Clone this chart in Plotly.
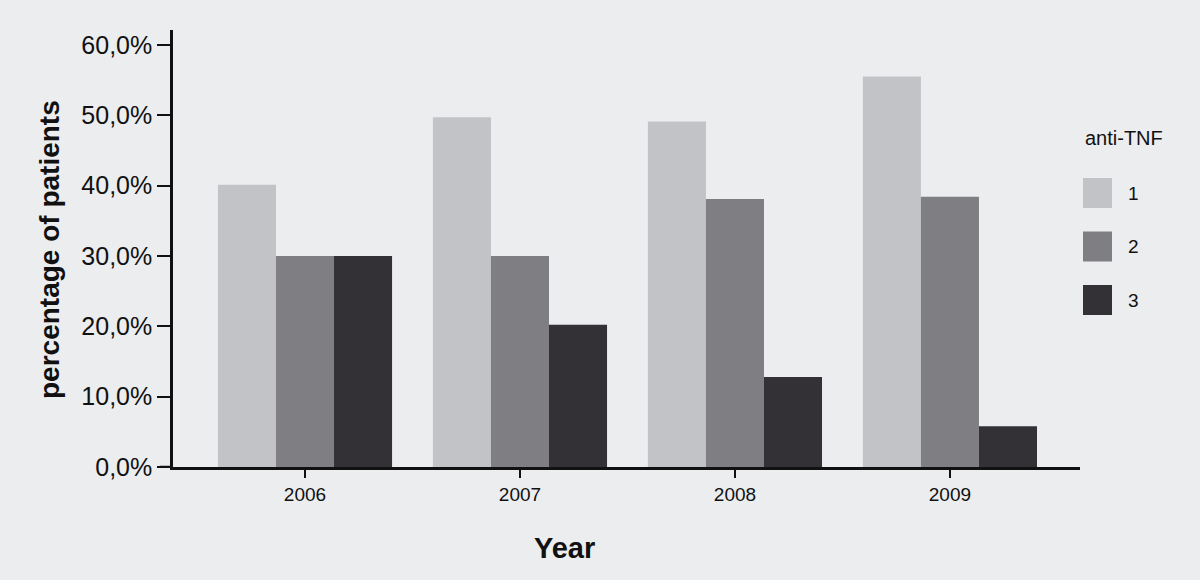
import plotly.graph_objects as go

# Data
years = ['2006', '2007', '2008', '2009']
series_names = ['1', '2', '3']
anti_tnf_1 = [40.1, 49.7, 49.1, 55.5]
anti_tnf_2 = [30.0, 30.0, 38.1, 38.4]
anti_tnf_3 = [30.0, 20.2, 12.8, 5.8]
y_tickvals = [0, 10, 20, 30, 40, 50, 60]
y_ticktext = ['0,0%', '10,0%', '20,0%', '30,0%', '40,0%', '50,0%', '60,0%']

colors = ['#c2c3c7', '#7f7e83', '#333136']
bg = '#ecedef'
ink = '#111111'

fig = go.Figure()
for name, vals, col in zip(series_names, [anti_tnf_1, anti_tnf_2, anti_tnf_3], colors):
    fig.add_trace(go.Bar(
        x=years, y=vals, name=name,
        marker=dict(color=col, line=dict(width=0)),
        showlegend=False
    ))

fig.update_layout(
    width=1200, height=580,
    paper_bgcolor=bg, plot_bgcolor=bg,
    margin=dict(l=173, r=120, t=30, b=113),
    barmode='group', bargap=0.19, bargroupgap=0,
    font=dict(family='Liberation Sans, Arial, sans-serif', color=ink),
)

fig.update_xaxes(
    type='category', range=[-0.614, 3.605],
    showline=True, linecolor=ink, linewidth=2.5,
    ticks='outside', ticklen=8, tickwidth=2, tickcolor=ink,
    tickfont=dict(size=19),
    showgrid=False, zeroline=False,
)
fig.update_yaxes(
    range=[0, 62.1],
    tickvals=y_tickvals, ticktext=y_ticktext,
    showline=True, linecolor=ink, linewidth=2.5,
    ticks='outside', ticklen=13, tickwidth=2, tickcolor=ink,
    tickfont=dict(size=25),
    showgrid=False, zeroline=False,
)

# x axis line runs a little past the y axis, like the ticks
fig.add_shape(type='line', xref='paper', yref='y', x0=-0.0145, x1=0, y0=0, y1=0,
              line=dict(color=ink, width=2.5))

# axis titles
fig.add_annotation(text='<b>Year</b>', xref='paper', yref='paper', x=0.432, y=-0.185,
                   showarrow=False, xanchor='center', yanchor='middle', font=dict(size=29))
fig.add_annotation(text='<b>percentage of patients</b>', xref='paper', yref='paper',
                   x=-0.1356, y=0.4966, textangle=-90, showarrow=False,
                   xanchor='center', yanchor='middle', font=dict(size=28))

# legend with large swatches
fig.add_annotation(text='anti-TNF', xref='paper', yref='paper', x=1.003, y=0.753,
                   showarrow=False, xanchor='left', yanchor='middle', font=dict(size=20))
for i, (name, col) in enumerate(zip(series_names, colors)):
    cy = 193 + i * 53.5
    y0 = (467 - (cy + 15)) / 437
    y1 = (467 - (cy - 15)) / 437
    fig.add_shape(type='rect', xref='paper', yref='paper',
                  x0=1.0033, x1=1.0353, y0=y0, y1=y1,
                  fillcolor=col, line=dict(width=0))
    fig.add_annotation(text=name, xref='paper', yref='paper', x=1.051, y=(y0 + y1) / 2,
                       showarrow=False, xanchor='left', yanchor='middle', font=dict(size=19))

fig.write_html('out.html', config={'displayModeBar': False},
               post_script="document.body.style.margin='0px';document.body.style.overflow='hidden';")
